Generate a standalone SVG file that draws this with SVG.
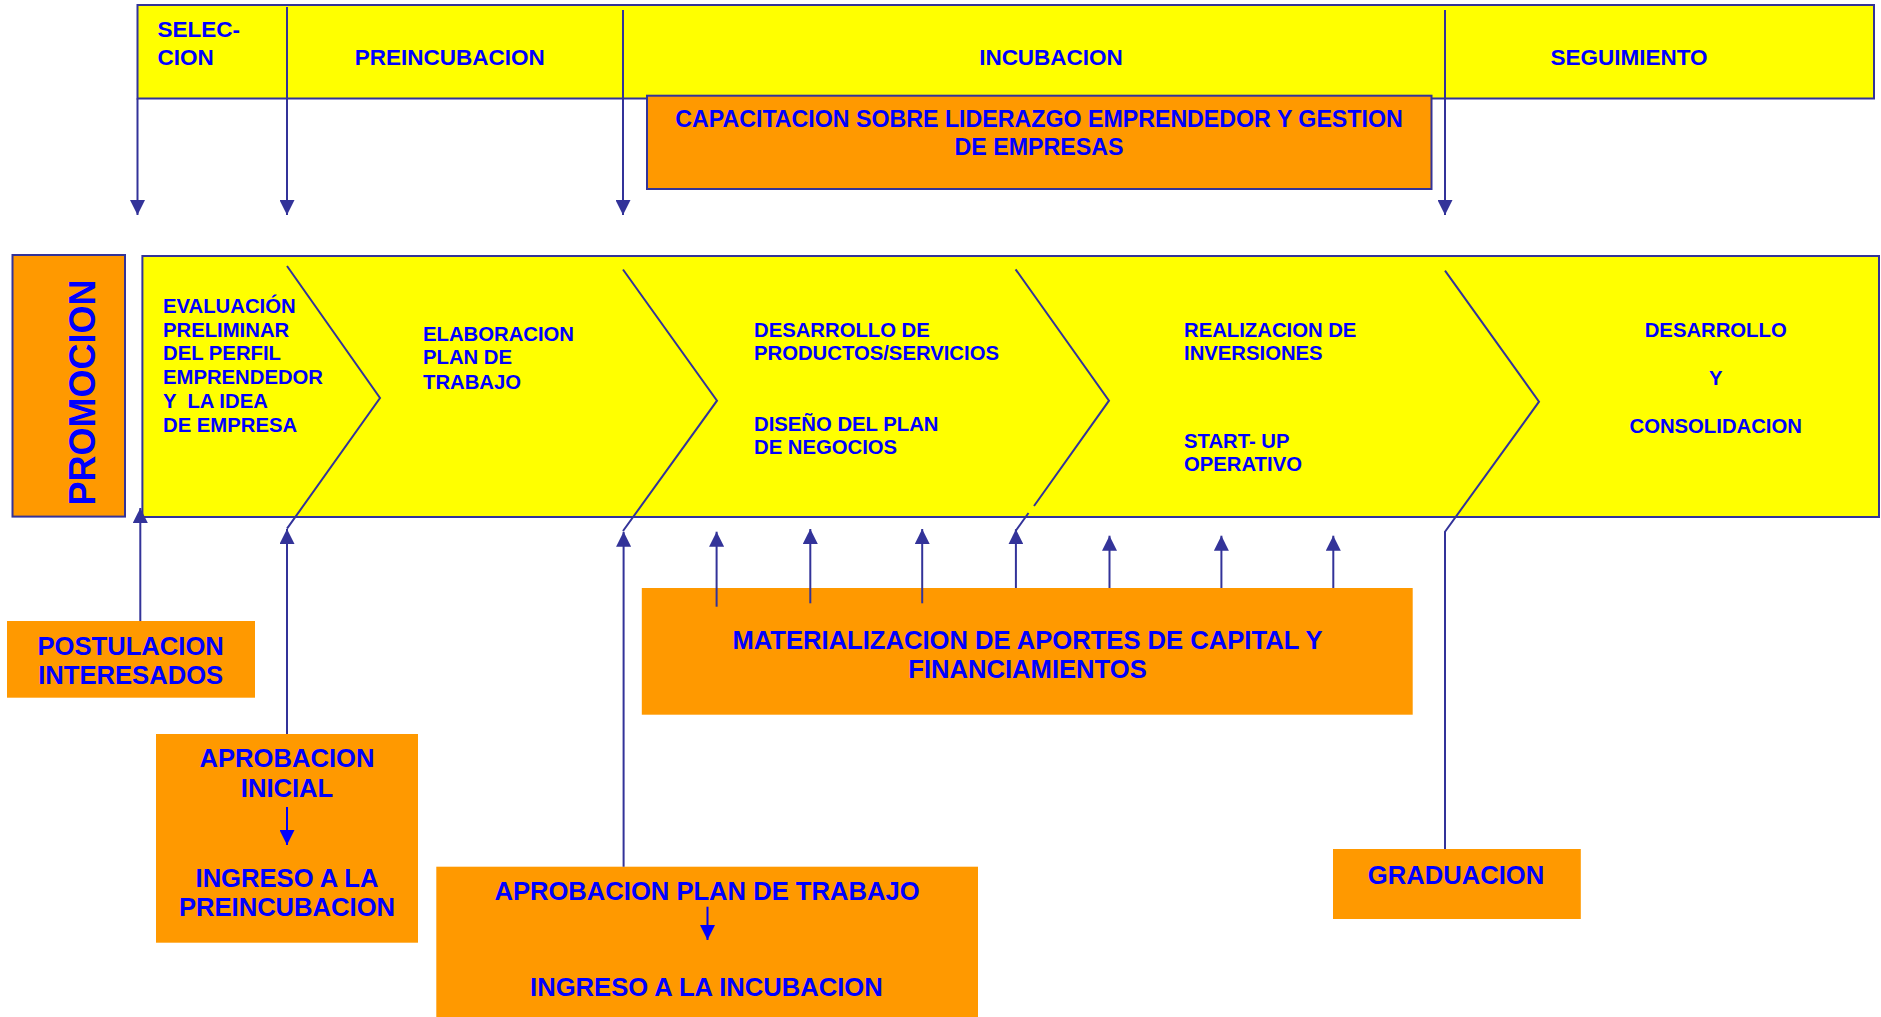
<svg xmlns="http://www.w3.org/2000/svg" width="1881" height="1017" viewBox="0 0 1881 1017">
<style>
text{font-family:"Liberation Sans",Arial,sans-serif;font-weight:bold;fill:#0000FF;white-space:pre}
.hd{font-size:22.5px}
.cv{font-size:20.3px}
.bx{font-size:25.6px}
.mid{text-anchor:middle}
.yel{fill:#FFFF00;stroke:#333399;stroke-width:2}
.org{fill:#FF9900;stroke:#333399;stroke-width:2}
.orgn{fill:#FF9900;stroke:none}
.ln{stroke:#333399;stroke-width:2;fill:none}
.bl{stroke:#0000FF;stroke-width:2;fill:none}
</style>
<defs>
<marker id="ah" markerUnits="userSpaceOnUse" markerWidth="15" markerHeight="15" refX="15" refY="7.5" orient="auto" viewBox="0 0 15 15">
<path d="M0,0 L15,7.5 L0,15 z" fill="#333399"/>
</marker>
<marker id="ab" markerUnits="userSpaceOnUse" markerWidth="15" markerHeight="15" refX="15" refY="7.5" orient="auto" viewBox="0 0 15 15">
<path d="M0,0 L15,7.5 L0,15 z" fill="#0000FF"/>
</marker>
</defs>

<g id="header">
<rect class="yel" x="137.5" y="5" width="1736.5" height="93.5"/>
<text class="hd" x="157.6" y="36.9">SELEC-</text>
<text class="hd" x="157.6" y="64.7">CION</text>
<text class="hd mid" x="449.7" y="64.7">PREINCUBACION</text>
<text class="hd mid" x="1051" y="65">INCUBACION</text>
<text class="hd mid" x="1629" y="65">SEGUIMIENTO</text>
</g>

<g id="capacitacion">
<rect class="org" x="647" y="95.7" width="784.5" height="93.3"/>
<text class="mid" style="font-size:23.2px" x="1039" y="127.3">CAPACITACION SOBRE LIDERAZGO EMPRENDEDOR Y GESTION</text>
<text class="mid" style="font-size:23.2px" x="1039" y="155">DE EMPRESAS</text>
</g>

<g id="promocion">
<rect class="org" x="12.5" y="255" width="112.5" height="261.6"/>
<text class="mid" style="font-size:36px" transform="translate(94.6,392.6) rotate(-90)" x="0" y="0">PROMOCION</text>
</g>

<g id="band">
<rect class="yel" x="142.4" y="256" width="1736.6" height="261"/>
</g>

<g id="chevrons">
<polyline class="ln" points="287,266 380,398 287,528.7"/>
<polyline class="ln" points="623,269.5 717,400.7 623,531"/>
<polyline class="ln" points="1015.6,269.3 1109,400.7 1034,506"/>
<line class="ln" x1="1028.5" y1="513" x2="1015.6" y2="531"/>
<polyline class="ln" points="1445,270.7 1539,401.7 1445,531.7 1445,849"/>
</g>

<g id="stage1">
<text class="cv" x="163" y="312.7">EVALUACIÓN</text>
<text class="cv" x="163" y="336.8">PRELIMINAR</text>
<text class="cv" x="163" y="359.9">DEL PERFIL</text>
<text class="cv" x="163" y="384">EMPRENDEDOR</text>
<text class="cv" x="163" y="408">Y  LA IDEA</text>
<text class="cv" x="163" y="431.5">DE EMPRESA</text>
</g>
<g id="stage2">
<text class="cv" x="423" y="341">ELABORACION</text>
<text class="cv" x="423" y="364.4">PLAN DE</text>
<text class="cv" x="423" y="388.5">TRABAJO</text>
</g>
<g id="stage3">
<text class="cv" x="754" y="336.7">DESARROLLO DE</text>
<text class="cv" x="754" y="360">PRODUCTOS/SERVICIOS</text>
<text class="cv" x="754" y="431">DISEÑO DEL PLAN</text>
<text class="cv" x="754" y="454">DE NEGOCIOS</text>
</g>
<g id="stage4">
<text class="cv" x="1184" y="336.7">REALIZACION DE</text>
<text class="cv" x="1184" y="360">INVERSIONES</text>
<text class="cv" x="1184" y="448.3">START- UP</text>
<text class="cv" x="1184" y="471">OPERATIVO</text>
</g>
<g id="stage5">
<text class="cv mid" x="1715.7" y="337.3">DESARROLLO</text>
<text class="cv mid" x="1715.7" y="385">Y</text>
<text class="cv mid" x="1715.7" y="433">CONSOLIDACION</text>
</g>

<g id="postulacion">
<rect class="orgn" x="7" y="621" width="248" height="76.7"/>
<text class="bx mid" x="130.7" y="655">POSTULACION</text>
<text class="bx mid" x="130.7" y="684">INTERESADOS</text>
</g>

<g id="aprobacion-inicial">
<rect class="orgn" x="156" y="734" width="262" height="208.7"/>
<text class="bx mid" x="287" y="766.7">APROBACION</text>
<text class="bx mid" x="287" y="796.7">INICIAL</text>
<line class="bl" x1="287" y1="807" x2="287" y2="845" marker-end="url(#ab)"/>
<text class="bx mid" x="287" y="887.3">INGRESO A LA</text>
<text class="bx mid" x="287" y="916">PREINCUBACION</text>
</g>

<g id="aprobacion-plan">
<rect class="orgn" x="436.3" y="866.7" width="541.7" height="150.3"/>
<text class="bx mid" x="707" y="900">APROBACION PLAN DE TRABAJO</text>
<line class="bl" x1="707.5" y1="906.7" x2="707.5" y2="940" marker-end="url(#ab)"/>
<text class="bx mid" x="706.4" y="995.7">INGRESO A LA INCUBACION</text>
</g>

<g id="materializacion">
<rect class="orgn" x="641.8" y="588" width="770.9" height="126.7"/>
</g>

<g id="graduacion">
<rect class="orgn" x="1333" y="849" width="247.8" height="70"/>
<text class="bx mid" x="1456" y="883.6">GRADUACION</text>
</g>

<g id="connectors">
<line class="ln" x1="137.5" y1="98.5" x2="137.5" y2="215" marker-end="url(#ah)"/>
<line class="ln" x1="287" y1="7" x2="287" y2="215" marker-end="url(#ah)"/>
<line class="ln" x1="623" y1="10" x2="623" y2="215" marker-end="url(#ah)"/>
<line class="ln" x1="1445" y1="10" x2="1445" y2="215" marker-end="url(#ah)"/>
<line class="ln" x1="140.3" y1="621" x2="140.3" y2="508" marker-end="url(#ah)"/>
<line class="ln" x1="287" y1="734" x2="287" y2="529" marker-end="url(#ah)"/>
<line class="ln" x1="623.6" y1="866.7" x2="623.6" y2="531.7" marker-end="url(#ah)"/>
<line class="ln" x1="716.6" y1="606.7" x2="716.6" y2="531.7" marker-end="url(#ah)"/>
<line class="ln" x1="810.3" y1="603.3" x2="810.3" y2="529" marker-end="url(#ah)"/>
<line class="ln" x1="922.2" y1="603.3" x2="922.2" y2="529" marker-end="url(#ah)"/>
<line class="ln" x1="1015.9" y1="588" x2="1015.9" y2="529.3" marker-end="url(#ah)"/>
<line class="ln" x1="1109.5" y1="588" x2="1109.5" y2="535.7" marker-end="url(#ah)"/>
<line class="ln" x1="1221.4" y1="588" x2="1221.4" y2="535.7" marker-end="url(#ah)"/>
<line class="ln" x1="1333.3" y1="588" x2="1333.3" y2="535.7" marker-end="url(#ah)"/>
</g>

<g id="materializacion-text">
<text class="bx mid" x="1027.5" y="649">MATERIALIZACION DE APORTES DE CAPITAL Y</text>
<text class="bx mid" x="1027.5" y="677.7">FINANCIAMIENTOS</text>
</g>
</svg>
